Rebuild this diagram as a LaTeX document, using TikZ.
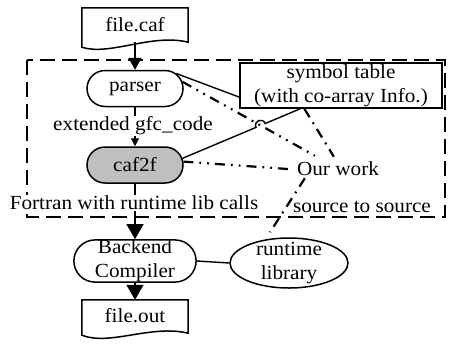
\documentclass[tikz,border=0pt]{standalone}
\usepackage{fontspec}
\setmainfont[FakeStretch=1.06]{Liberation Serif}
\usetikzlibrary{shapes.misc,shapes.geometric,arrows.meta,calc,intersections}
\pgfdeclarelayer{bg}
\pgfsetlayers{bg,main}
\begin{document}
\begin{tikzpicture}[x=1pt,y=-1pt,
  every node/.style={font=\fontsize{20}{24}\selectfont},
  pill/.style={rounded rectangle, draw, line width=1.5pt, minimum width=96pt, minimum height=36pt, inner sep=0pt},
  docbox/.style={rectangle, minimum width=106pt, inner sep=0pt},
  docline/.style={line width=1.5pt, fill=white},
  bigarrow/.style={line width=1.5pt, -{Triangle[length=15pt,width=17pt]}},
  midarrow/.style={line width=1.5pt, -{Triangle[length=12pt,width=13pt]}},
  smallarrow/.style={line width=1.1pt, -{Triangle[length=8pt,width=8pt]}},
  solidlink/.style={line width=1.4pt},
  dashdotdot/.style={line width=2.2pt, dash pattern=on 10pt off 6pt on 1.8pt off 6pt on 1.8pt off 6pt},
  dashdotline/.style={line width=2.2pt, dash pattern=on 10pt off 6pt on 1.8pt off 6pt},
  bigdash/.style={line width=2.7pt, dash pattern=on 15pt off 7pt},
  lbl/.style={fill=white, inner sep=1pt}]
\useasboundingbox (0,0) rectangle (449,343);

% nodes
\node[docbox, minimum height=34pt] (fc) at (135,25) {file.caf};
\node[pill, fill=white] (parser) at (135,88.5) {parser};
\node[pill, fill=gray!50] (caf2f) at (135,165) {caf2f};
\node[pill, fill=white, minimum width=106pt, minimum height=42pt, align=center] (backend) at (135,261) {Backend\\Compiler};
\node[ellipse, draw, line width=1.5pt, fill=white, minimum width=118pt, minimum height=50pt, inner sep=0pt,
      label={[align=center, inner sep=0pt]center:runtime\\library}] (rt) at (289,263) {};
\node[docbox, minimum height=32pt] (fo) at (135,316) {file.out};
\node[draw, line width=1.5pt, fill=white, rectangle, minimum width=202pt, minimum height=45pt, align=center, inner sep=0pt] (st) at (341,85.5) {symbol table\\(with co-array Info.)};
\node[inner sep=2pt] (ow) at (338,169) {Our work};
\node (sts) at (362,207) {source to source};
\node[lbl] (l1) at (133,126) {extended gfc\_code};
\node[lbl] (l2) at (134,203) {Fortran with runtime lib calls};

\begin{pgfonlayer}{bg}
\fill[white] (0,0) rectangle (449,343);
\draw[bigdash] (27,60) rectangle (445,217);

% document shapes
\draw[docline] ($(fc.south west)+(0,5)$) -- (fc.north west) -- (fc.north east) -- (fc.south east)
  .. controls ($(fc.south east)+(-37,-9)$) and ($(fc.south west)+(28,14)$) .. ($(fc.south west)+(0,5)$) -- cycle;
\draw[docline] ($(fo.south west)+(0,3)$) -- (fo.north west) -- (fo.north east) -- ($(fo.south east)+(0,1)$)
  .. controls ($(fo.south east)+(-37,-8)$) and ($(fo.south west)+(28,14)$) .. ($(fo.south west)+(0,3)$) -- cycle;

% main flow
\draw[midarrow] (fc.south) -- (parser.north);
\draw[smallarrow] (parser.south) -- (caf2f.north);
\draw[bigarrow] (caf2f.south) -- (backend.north);
\draw[bigarrow] (backend.south) -- (fo.north);
\draw[solidlink] (backend.east) -- (rt.west);

% symbol table links
\draw[solidlink] (parser.20) -- ($(st.south west)!0.25!(st.north west)$);
\draw[dashdotdot, name path=lone] (parser.8) -- ($(ow.north west)+(20,-4)$);
\coordinate (cA) at (caf2f.8);
\coordinate (cB) at ($(st.south west)!0.30!(st.south east)$);
\coordinate (cC) at ($(st.south west)!0.32!(st.south east)$);
\path[name path=lzero] (cA) -- (cB);
\path[name intersections={of=lone and lzero, by=hc}];
\coordinate (h1) at ($(hc)!5pt!(cA)$);
\coordinate (h2) at ($(hc)!5pt!(cB)$);
\draw[solidlink] (cA) -- (h1) .. controls ($(h1)!7pt!90:(hc)$) and ($(h2)!7pt!-90:(hc)$) .. (h2) -- (cB);

% our work links
\draw[dashdotline] (cC) -- ($(ow.north west)+(39,-3)$);
\draw[dashdotdot] (caf2f.4) -- ($(ow.west)+(-7,0)$);
\draw[dashdotline] ($(ow.south west)+(10,0)$) -- ($(rt.north)+(-19,-5)$);
\end{pgfonlayer}
\end{tikzpicture}
\end{document}
